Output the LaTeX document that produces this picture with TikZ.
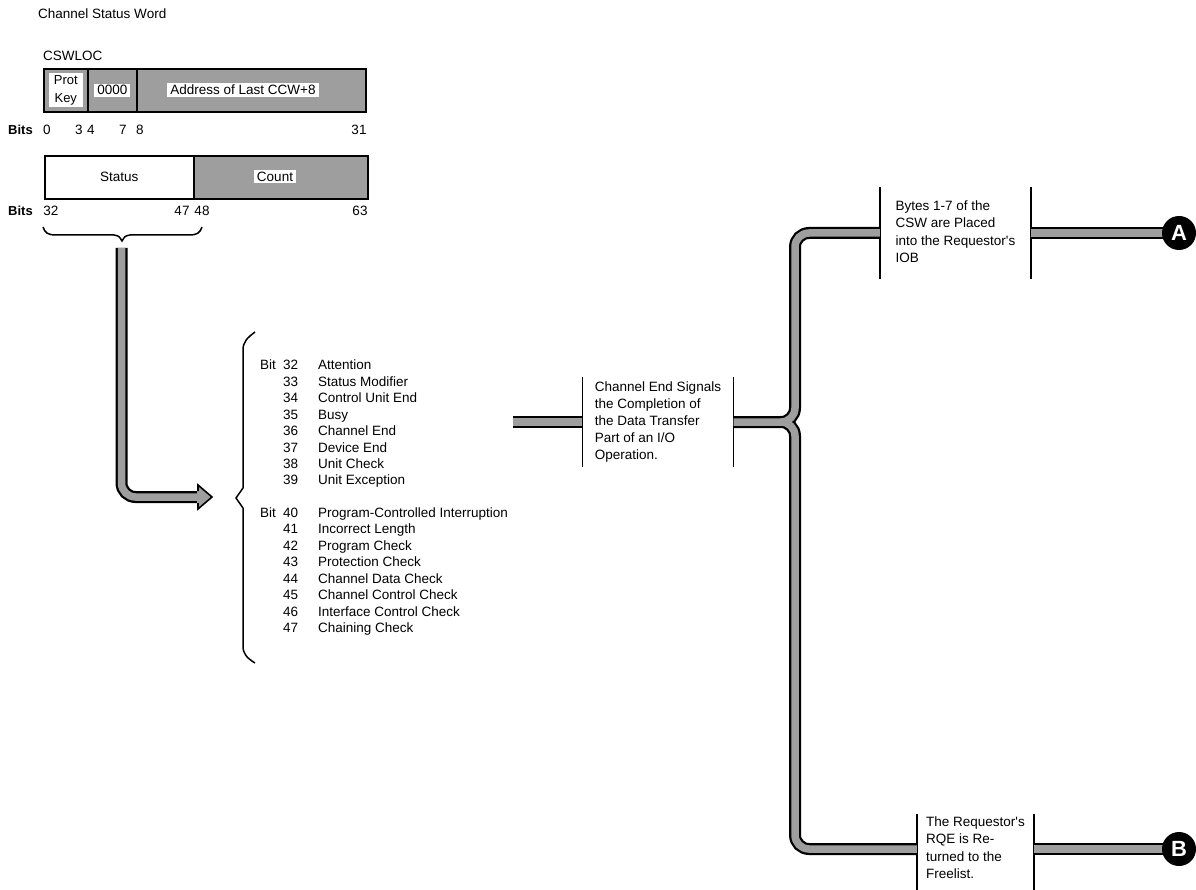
\documentclass[tikz,border=0pt]{standalone}
\usepackage{fontspec}
\setmainfont{Liberation Sans}
\definecolor{ht}{gray}{0.62}
\begin{document}
\begin{tikzpicture}[x=1pt,y=-1pt,
  every node/.style={inner sep=0pt},
  txt/.style={font=\fontsize{13.5}{16.4}\selectfont},
  btxt/.style={font=\fontsize{13.5}{17.2}\selectfont},
  bits/.style={font=\bfseries\fontsize{13}{16}\selectfont},
  field/.style={draw, line width=1.6pt, minimum height=43pt, anchor=north west},
  gfield/.style={field, fill=ht},
  patch/.style={fill=white, inner xsep=3pt, inner ysep=2pt},
  pipe/.style={draw=ht, line width=7.5pt, preaction={draw=black, line width=12pt}},
  blk/.style={btxt, minimum width=151pt},
  side/.style={line width=1.5pt},
  brace/.style={line width=1.5pt},
  circ/.style={circle, fill=black, text=white, minimum size=34pt, font=\bfseries\fontsize{22}{22}\selectfont},
]
\useasboundingbox (0,0) rectangle (1196,890);

% title
\node[txt, anchor=west] (title) at (38,14) {Channel Status Word};
\node[txt, anchor=west] (loc) at (43,56) {CSWLOC};

% first register
\node[gfield, minimum width=44pt] (f1) at (43,68) {};
\node[gfield, minimum width=49pt] (f2) at (87,68) {};
\node[gfield, minimum width=229pt] (f3) at (136,68) {};
\node[patch, inner xsep=5pt, align=center, font=\fontsize{13}{18}\selectfont] (pk) at (f1) {Prot\\Key};
\node[txt, patch] (zz) at (f2) {0000};
\node[txt, patch] (ad) at (243,90) {Address of Last CCW+8};

\node[bits, anchor=west] (bl1) at (8,130) {Bits};
\node[txt] (n0) at (47,130) {0};
\node[txt] (n3) at (79,130) {3};
\node[txt] (n4) at (91,130) {4};
\node[txt] (n7) at (123,130) {7};
\node[txt] (n8) at (140,130) {8};
\node[txt] (n31) at (359,130) {31};

% second register
\node[field, minimum width=149pt] (g1) at (44,155) {};
\node[gfield, minimum width=174pt] (g2) at (193,155) {};
\node[txt] (st) at (g1) {Status};
\node[txt, patch] (cn) at (275,176.5) {Count};

\node[bits, anchor=west] (bl2) at (8,211) {Bits};
\node[txt] (n32) at (51,211) {32};
\node[txt] (n47) at (182,211) {47};
\node[txt] (n48) at (202,211) {48};
\node[txt] (n63) at (360,211) {63};

% brace under status
\coordinate (bt) at (122,241);
\draw[brace] (43,227) .. controls (45,233) and (48,235) .. (56,235) -- (114,235)
  .. controls (119,236) .. (bt) .. controls (125,236) .. (130,235) -- (189,235)
  .. controls (197,235) and (200,233) .. (202,227);

% pipe with arrow to list
\coordinate (p1s) at (121.5,248);
\coordinate (p1e) at (199,497);
\draw[pipe, rounded corners=14pt] (p1s) |- (p1e);
\fill[ht] (197,491) -- (198,485) -- (212,497) -- (198,509) -- (197,503) -- cycle;
\draw[line width=1.6pt, line join=miter] (198,491) -- (198,485) -- (212,497) -- (198,509) -- (198,503);

% big brace
\coordinate (bb0) at (236,498);
\draw[brace] (255,332) .. controls (247,338) and (243,342) .. (243,350) -- (243,488)
  -- (bb0) -- (243,508) -- (243,646) .. controls (243,654) and (247,658) .. (255,663);

% list of bits
\node[txt, anchor=base west] (list) at (260,370) {\begin{tabular}[t]{@{}p{23pt}@{}p{35pt}@{}l@{}}
Bit & 32 & Attention\\
 & 33 & Status Modifier\\
 & 34 & Control Unit End\\
 & 35 & Busy\\
 & 36 & Channel End\\
 & 37 & Device End\\
 & 38 & Unit Check\\
 & 39 & Unit Exception\\[16.4pt]
Bit & 40 & Program-Controlled Interruption\\
 & 41 & Incorrect Length\\
 & 42 & Program Check\\
 & 43 & Protection Check\\
 & 44 & Channel Data Check\\
 & 45 & Channel Control Check\\
 & 46 & Interface Control Check\\
 & 47 & Chaining Check
\end{tabular}};

% middle block
\node[blk, minimum height=90pt] (ce) at (658,422) {\begin{tabular}{@{}l@{}}Channel End Signals\\the Completion of\\the Data Transfer\\Part of an I/O\\Operation.\end{tabular}};
\draw[side] (ce.north west) -- (ce.south west);
\draw[side] (ce.north east) -- (ce.south east);

% block A
\node[blk, minimum height=92pt] (ba) at (955.5,233) {\begin{tabular}{@{}l@{}}Bytes 1-7 of the\\CSW are Placed\\into the Requestor\textquotesingle s\\IOB\end{tabular}};
\draw[side] (ba.north west) -- (ba.south west);
\draw[side] (ba.north east) -- (ba.south east);

% block B
\node[blk, minimum width=117pt, minimum height=62pt] (bb) at (975.5,849) {\begin{tabular}{@{}l@{}}The Requestor\textquotesingle s\\RQE is Re-\\turned to the\\Freelist.\end{tabular}};
\draw[side] (bb.north west) -- (bb.north west |- 0,892);
\draw[side] (bb.north east) -- (bb.north east |- 0,892);

% pipes
\coordinate (pin) at (513,422);
\coordinate (j) at (795,422);
\coordinate (ca) at (1179,233);
\coordinate (cb) at (1179,849);
\draw[pipe] (pin) -- (ce.west);
\draw[pipe, rounded corners=14pt] (ce.east) -- (j) |- (ba.west) (ce.east) -- (j) |- (bb.west);
\draw[pipe] (ba.east) -- (ca);
\draw[pipe] (bb.east) -- (cb);

% connectors
\node[circ] (cA) at (ca) {A};
\node[circ] (cB) at (cb) {B};
\end{tikzpicture}
\end{document}
